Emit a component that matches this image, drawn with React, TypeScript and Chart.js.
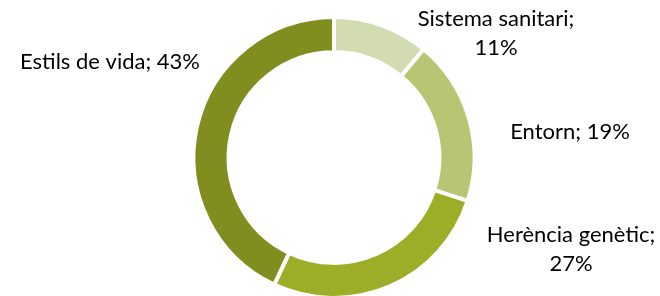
import React, { useEffect, useRef } from "react";
import { Chart, registerables } from "chart.js";

Chart.register(...registerables);

const categories = ["Sistema sanitari", "Entorn", "Herència genètic", "Estils de vida"];
const values = [11, 19, 27, 43];

const sliceColors = ["#D3DBB0", "#B8C573", "#9DAD27", "#818E1F"];

// label layout: [centerX, firstBaselineY, twoLines]
const labelLayout: [number, number, boolean][] = [
  [496, 26, true],
  [570, 139, false],
  [571, 242, true],
  [110, 69, false],
];

const FONT = "22px Lato";

const labelPlugin = {
  id: "outerLabels",
  afterDraw(chart: any) {
    const ctx = chart.ctx;
    const data = chart.data;
    ctx.save();
    ctx.font = FONT;
    ctx.fillStyle = "#000000";
    ctx.textAlign = "center";
    ctx.textBaseline = "alphabetic";
    data.labels.forEach((lab: string, i: number) => {
      const v = data.datasets[0].data[i];
      const [x, y, two] = labelLayout[i];
      if (two) {
        ctx.fillText(`${lab};`, x, y);
        ctx.fillText(`${v}%`, x, y + 29);
      } else {
        ctx.fillText(`${lab}; ${v}%`, x, y);
      }
    });
    ctx.restore();
  },
};

export default function App() {
  const ref = useRef<HTMLCanvasElement | null>(null);
  useEffect(() => {
    document.body.style.margin = "0";
    const chart = new Chart(ref.current!, {
      type: "doughnut",
      data: {
        labels: categories,
        datasets: [
          {
            data: values,
            backgroundColor: sliceColors,
            borderColor: "#FFFFFF",
            borderWidth: 4,
          },
        ],
      },
      options: {
        responsive: false,
        animation: false,
        cutout: "75%",
        layout: { padding: { top: 15, left: 8, right: 0, bottom: 0 } },
        plugins: {
          legend: { display: false },
          tooltip: { enabled: false },
        },
      },
      plugins: [labelPlugin],
    });
    return () => chart.destroy();
  }, []);
  return (
    <div style={{ width: 660, height: 296, overflow: "hidden", background: "#fff" }}>
      <canvas ref={ref} width={660} height={300} style={{ display: "block" }} />
    </div>
  );
}
